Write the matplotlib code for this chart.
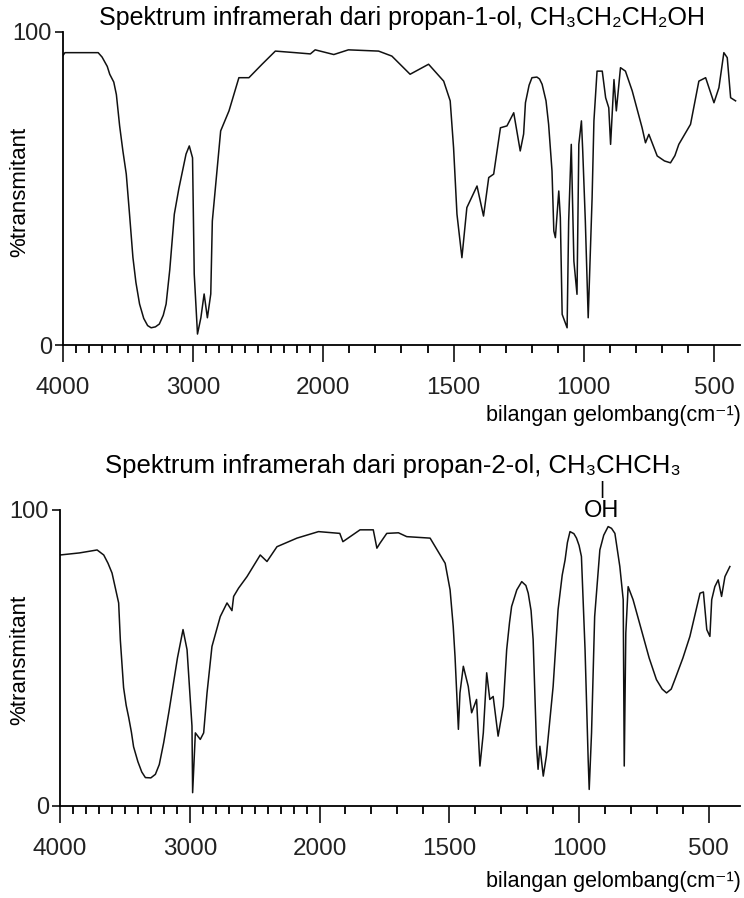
import numpy as np
import matplotlib
matplotlib.use("Agg")
import matplotlib.pyplot as plt
from matplotlib.ticker import FixedLocator

plt.rcParams["font.family"] = ["Liberation Sans", "DejaVu Sans"]

# propan-1-ol spectrum (wavenumber cm-1, %T)
wn1 = [4000, 3985, 3730, 3700, 3660, 3641, 3610, 3590, 3565, 3540, 3514, 3489,
       3463, 3440, 3412, 3380, 3350, 3323, 3290, 3260, 3230, 3208, 3180, 3145,
       3110, 3082, 3055, 3030, 3005, 2992, 2967, 2941, 2916, 2891, 2865, 2853,
       2789, 2725, 2649, 2572, 2471, 2369, 2216, 2100, 2063, 1960, 1904, 1788,
       1737, 1667, 1596, 1538, 1513, 1500, 1487, 1468, 1449, 1410, 1385, 1365,
       1346, 1320, 1295, 1269, 1244, 1231, 1224, 1210, 1199, 1180, 1170, 1160,
       1145, 1135, 1122, 1115, 1109, 1096, 1090, 1083, 1064, 1058, 1048, 1038,
       1026, 1019, 1009, 1004, 994, 983, 968, 961, 949, 929, 916, 904, 897,
       884, 875, 859, 840, 814, 776, 763, 750, 718, 690, 667, 650, 635, 590,
       558, 532, 500, 481, 462, 449, 436, 417]
t1 = [92.5, 93.4, 93.4, 92.0, 89.0, 86.5, 84.0, 80.0, 70.0, 62.0, 54.6, 41.8,
      28.0, 20.0, 13.1, 8.5, 6.2, 5.5, 5.8, 6.7, 9.5, 13.1, 24.0, 41.8,
      50.0, 55.6, 61.0, 63.6, 59.8, 22.7, 3.5, 8.7, 16.3, 8.7, 16.3, 39.6,
      68.4, 74.8, 85.4, 85.4, 89.7, 93.9, 93.4, 93.0, 94.3, 92.8, 94.3, 93.9,
      92.3, 86.5, 89.7, 84.3, 78.0, 63.0, 41.8, 27.9, 43.9, 50.8, 41.2, 53.5,
      54.6, 69.4, 70.0, 74.2, 62.0, 67.4, 77.4, 83.0, 85.4, 85.6, 85.0, 83.3,
      78.0, 70.5, 55.6, 36.4, 34.3, 49.2, 40.7, 9.8, 5.5, 39.6, 64.1, 26.8,
      16.2, 64.1, 71.6, 62.0, 39.6, 8.7, 47.0, 71.6, 87.5, 87.5, 79.0, 75.8, 64.1,
      84.8, 74.8, 88.6, 87.5, 81.2, 69.4, 64.6, 67.3, 60.4, 58.8, 58.2, 60.5, 64.1, 70.5,
      84.3, 85.4, 77.4, 82.2, 93.4, 91.8, 79.0, 78.0]

# propan-2-ol spectrum
wn2 = [4000, 3850, 3714, 3663, 3630, 3599, 3570, 3548, 3535, 3510, 3490, 3471,
       3450, 3433, 3400, 3370, 3342, 3300, 3265, 3235, 3201, 3160, 3125, 3095,
       3073, 3052, 3021, 2983, 2978, 2957, 2919, 2893, 2867, 2829, 2765, 2713,
       2675, 2662, 2624, 2559, 2457, 2405, 2328, 2174, 2008, 1922, 1910, 1844,
       1793, 1779, 1767, 1741, 1696, 1664, 1574, 1516, 1497, 1485, 1478, 1465,
       1459, 1446, 1427, 1414, 1395, 1382, 1369, 1356, 1344, 1331, 1312, 1292,
       1279, 1268, 1260, 1240, 1221, 1205, 1196, 1185, 1177, 1164, 1158, 1151,
       1138, 1126, 1100, 1081, 1065, 1054, 1045, 1035, 1020, 1010, 1000, 991,
       977, 965, 961, 952, 940, 920, 905, 888, 875, 862, 843, 830, 826, 820,
       811, 792, 753, 730, 702, 680, 663, 645, 631, 600, 573, 534, 521, 508,
       496, 489, 477, 464, 451, 438, 419]
t2 = [84.8, 85.5, 86.5, 84.8, 82.0, 78.7, 73.0, 68.6, 56.0, 40.0, 34.0, 30.0,
      25.0, 20.0, 15.0, 11.5, 9.6, 9.5, 10.7, 14.0, 21.4, 32.0, 41.6, 50.0,
      55.0, 59.6, 52.8, 27.0, 4.5, 24.7, 22.5, 24.7, 38.2, 53.9, 64.0, 68.6,
      66.0, 70.8, 73.6, 77.5, 84.8, 82.6, 87.6, 90.5, 92.7, 92.1, 89.3, 93.3,
      93.3, 87.1, 88.8, 92.1, 92.3, 91.0, 90.5, 82.0, 73.0, 60.7, 50.5, 25.9,
      38.2, 47.2, 40.4, 31.5, 36.0, 13.5, 24.7, 45.0, 36.0, 37.0, 23.6, 33.7,
      52.8, 62.0, 67.4, 73.0, 75.8, 74.5, 71.9, 66.0, 56.2, 20.2, 12.4, 20.2,
      10.1, 16.9, 40.4, 66.3, 78.0, 83.1, 89.0, 92.7, 92.0, 90.5, 88.0, 84.3,
      52.8, 15.7, 5.6, 24.7, 64.0, 86.5, 91.5, 94.4, 93.8, 92.1, 80.9, 69.7, 13.5, 58.4,
      74.1, 69.7, 57.3, 50.0, 42.7, 39.5, 38.2, 39.5, 42.7, 50.0, 57.3, 71.9, 72.3, 59.6,
      57.3, 69.7, 74.1, 76.4, 70.8, 77.5, 80.9]

major_ticks = [4000, 3000, 2000, 1500, 1000, 500]
major_labels = ["4000", "3000", "2000", "1500", "1000", "500"]


# IR charts use half scale above 2000 cm-1
def fwd(w):
    w = np.asarray(w, dtype=float)
    return np.where(w >= 2000, 1000 + w / 2, w)


def inv(u):
    u = np.asarray(u, dtype=float)
    return np.where(u >= 2000, 2 * (u - 1000), u)


W, H = 744, 898
fig = plt.figure(figsize=(W / 100, H / 100), dpi=100)


def make_axes(px_left, py_top, py_bottom, xmin_wn, wn, t):
    ax = fig.add_axes([px_left / W, 1 - py_bottom / H,
                       (740 - px_left) / W, (py_bottom - py_top) / H])
    ax.plot(wn, t, color="#111111", lw=1.1)
    ax.set_xscale("function", functions=(fwd, inv))
    ax.set_xlim(4000, xmin_wn)
    ax.set_ylim(0, 100)
    ax.set_xticks(major_ticks)
    ax.set_xticklabels(major_labels)
    minor = [v for v in range(3900, 400, -100) if v not in major_ticks]
    ax.xaxis.set_minor_locator(FixedLocator(minor))
    ax.set_yticks([0, 100])
    ax.set_yticklabels(["0", "100"])
    for s in ["top", "right"]:
        ax.spines[s].set_visible(False)
    for s in ["left", "bottom"]:
        ax.spines[s].set_linewidth(1.3)
    ax.tick_params(axis="x", which="major", length=12, width=1.3, pad=11,
                   labelsize=17.5, colors="#222222")
    ax.tick_params(axis="x", which="minor", length=6, width=1.3)
    ax.tick_params(axis="y", length=6, width=1.3, pad=2, labelsize=17,
                   colors="#222222")
    ax.patch.set_visible(False)
    return ax


ax1 = make_axes(63, 32, 345, 400, wn1, t1)
ax2 = make_axes(60, 510, 806, 380, wn2, t2)

fs = 18
fig.text(402 / W, 1 - 18 / H, "Spektrum inframerah dari propan-1-ol, CH₃CH₂CH₂OH",
         ha="center", va="center", fontsize=fs)
fig.text(393 / W, 1 - 466 / H, "Spektrum inframerah dari propan-2-ol, CH₃CHCH₃",
         ha="center", va="center", fontsize=18.5)
fig.text(602 / W, 1 - 489 / H, "|", ha="center", va="center", fontsize=fs - 4)
fig.text(602 / W, 1 - 511 / H, "OH", ha="center", va="center", fontsize=fs - 1)

for yc in [192, 660]:
    fig.text(20 / W, 1 - yc / H, "%transmitant", rotation=90,
             ha="center", va="center", fontsize=16)
for yc in [415, 882]:
    fig.text(741 / W, 1 - yc / H, "bilangan gelombang(cm⁻¹)",
             ha="right", va="center", fontsize=15.5)

fig.savefig("out.png", dpi=100)
